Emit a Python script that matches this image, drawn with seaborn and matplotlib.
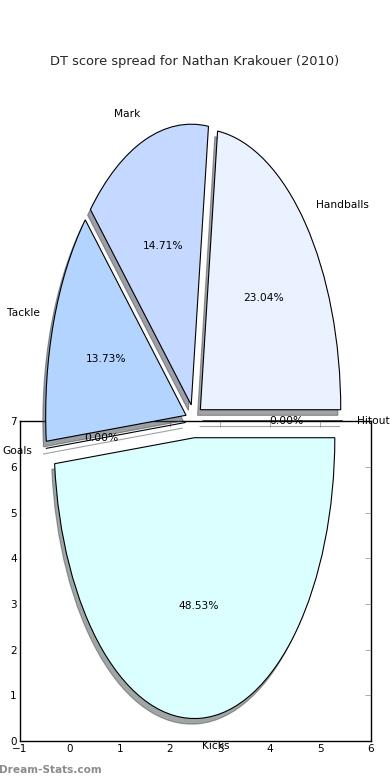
import matplotlib
matplotlib.use('Agg')
import numpy as np
import seaborn as sns
import matplotlib.pyplot as plt

# DT score breakdown (percent of total)
labels = ['Handballs', 'Mark', 'Tackle', 'Goals', 'Kicks', 'Hitout']
values = [23.04, 14.71, 13.73, 0.0, 48.53, 0.0]
colors = ['#EAF1FF', '#C5D8FF', '#B3D4FF', '#D0E8FF', '#DBFFFF', '#E8F4FF']
explode = [0.06, 0.06, 0.06, 0.06, 0.06, 0.06]

x_ticks = [-1, 0, 1, 2, 3, 4, 5, 6]
y_ticks = [0, 1, 2, 3, 4, 5, 6, 7]

title = 'DT score spread for Nathan Krakouer (2010)'

sns.set_theme(style='white')
plt.rcParams['font.family'] = ['DejaVu Sans']

fig = plt.figure(figsize=(3.9, 7.8), dpi=100)
fig.patch.set_facecolor('white')

# the plain axes that sits under the pie
base = fig.add_axes([0.05, 0.05, 0.9, 0.41])
base.set_facecolor('white')
base.set_xlim(-1, 6)
base.set_ylim(0, 7)
base.set_xticks(x_ticks)
base.set_yticks(y_ticks)
base.tick_params(direction='in', length=4, width=0.6, color='#a0a0a0',
                 labelsize=7.5, labelcolor='black', top=True, right=True, pad=2)
for s in base.spines.values():
    s.set_color('black')
    s.set_linewidth(1.0)

# pie on top, stretched to the axes box
ax = fig.add_axes([0.05, 0.05, 0.9, 0.9])
wedges, texts, autotexts = ax.pie(
    values, labels=labels, colors=colors, explode=explode,
    autopct='%1.2f%%', labeldistance=1.1, pctdistance=0.6,
    shadow={'ox': -0.0144, 'oy': -0.0144, 'shade': 0.7},
    wedgeprops=dict(edgecolor='black', linewidth=0.8),
    textprops=dict(fontsize=7.7, color='black'))
ax.set_aspect('auto')
ax.set_xlim(-1.243, 1.257)
ax.set_ylim(-1.14, 1.36)
ax.patch.set_alpha(0)
ax.set_axis_off()

fig.text(0.5, 1 - 61 / 780, title, ha='center', va='center', fontsize=9.35)
fig.text(-0.002, 1 - 770 / 780, 'Dream-Stats.com', ha='left', va='center',
         fontsize=7.6, fontweight='bold', color='#8c8c8c')

fig.savefig('out.png', dpi=100)
